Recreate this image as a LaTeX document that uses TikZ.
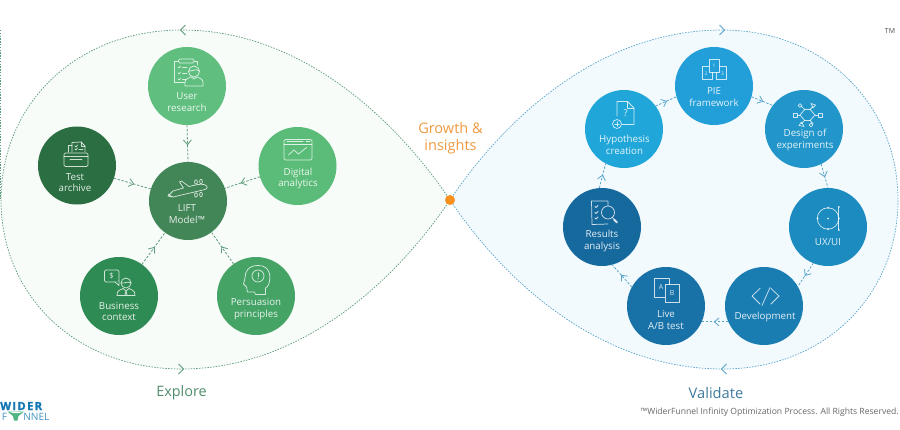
\documentclass[tikz,border=0pt]{standalone}
\usepackage{fontspec}
\setmainfont{Open Sans}
\usetikzlibrary{arrows.meta,decorations.markings}
\definecolor{gfill}{HTML}{F7FCF9}
\definecolor{bfill}{HTML}{F2FAFE}
\definecolor{gdot}{HTML}{5F9C7C}
\definecolor{bdot}{HTML}{5BA5CB}
\definecolor{cUser}{HTML}{60BF7F}
\definecolor{cTest}{HTML}{2B6E42}
\definecolor{cLift}{HTML}{428557}
\definecolor{cDig}{HTML}{5ABC78}
\definecolor{cBus}{HTML}{2F8B54}
\definecolor{cPer}{HTML}{45A366}
\definecolor{cPie}{HTML}{229FD8}
\definecolor{cHyp}{HTML}{20A6D8}
\definecolor{cDes}{HTML}{2296CA}
\definecolor{cUx}{HTML}{1C8BBF}
\definecolor{cDev}{HTML}{197DB2}
\definecolor{cLive}{HTML}{1871A7}
\definecolor{cRes}{HTML}{16699D}
\definecolor{orange1}{HTML}{F7901E}
\definecolor{orange2}{HTML}{EF9A3F}
\definecolor{expl}{HTML}{4F8C6B}
\definecolor{vali}{HTML}{3F7A9C}
\definecolor{logoB}{HTML}{1478B4}
\definecolor{logoG}{HTML}{4FB583}
\tikzset{
  x=0.75pt,y=-0.75pt,
  disc/.style={circle,minimum size=58.5pt,inner sep=0pt,outer sep=0pt,fill=#1},
  lbl/.style={text=white,text opacity=.88,align=center,inner sep=0pt,font=\fontsize{7.3}{8.7}\selectfont},
  lobe/.style={draw=#1,line width=.55pt,dash pattern=on 1.1pt off 1pt},
  flowline/.style={draw=#1,line width=.6pt,dash pattern=on 1.8pt off 1.2pt,
    postaction={decorate,decoration={markings,mark=at position .55 with {\arrow[solid,#1,line width=.6pt]{Straight Barb[length=3.6pt,width=6pt]}}}}},
  ico/.style={draw=white,draw opacity=.78,line width=.55pt,line join=round,line cap=round},
  chev/.style={draw=#1,line width=.6pt,line join=round},
  tiny/.style={text=white,text opacity=.85,inner sep=0pt}
}
\begin{document}
\begin{tikzpicture}
\useasboundingbox (0,0) rectangle (900,429);
% lobes
\coordinate (c0) at (450,200);
\coordinate (lt) at (182,30); \coordinate (ll) at (1,200); \coordinate (lb) at (182,369);
\coordinate (rt) at (722,30); \coordinate (rr) at (898,200); \coordinate (rb) at (723,369);
\fill[gfill] (c0) .. controls (395,118) and (300,30) .. (lt) .. controls (75,30) and (1,105) .. (ll) .. controls (1,295) and (75,369) .. (lb) .. controls (300,369) and (395,282) .. (c0);
\fill[bfill] (c0) .. controls (505,118) and (600,30) .. (rt) .. controls (825,30) and (898,105) .. (rr) .. controls (898,295) and (825,369) .. (rb) .. controls (600,369) and (505,282) .. (c0);
\draw[lobe=gdot] (c0) .. controls (395,118) and (300,30) .. (lt) .. controls (75,30) and (1,105) .. (ll) .. controls (1,295) and (75,369) .. (lb) .. controls (300,369) and (395,282) .. (c0);
\draw[lobe=bdot] (c0) .. controls (505,118) and (600,30) .. (rt) .. controls (825,30) and (898,105) .. (rr) .. controls (898,295) and (825,369) .. (rb) .. controls (600,369) and (505,282) .. (c0);
\draw[lobe=gdot] (.6,30) -- (.6,200);
\node[circle,fill=orange1,minimum size=7.5pt,inner sep=0pt] (hub) at (c0) {};
\draw[chev=gdot] (185.5,25) -- (180.5,30) -- (185.5,35);
\draw[chev=gdot] (178.5,364) -- (183.5,369) -- (178.5,374);
\draw[chev=bdot] (719.5,25) -- (724.5,30) -- (719.5,35);
\draw[chev=bdot] (726.5,364) -- (721.5,369) -- (726.5,374);
% discs
\node[disc=cUser] (user) at (187,86) {};
\node[disc=cTest] (test) at (77,165.5) {};
\node[disc=cLift] (lift) at (188,201) {};
\node[disc=cDig] (dig) at (297.5,166) {};
\node[disc=cBus] (bus) at (119,296) {};
\node[disc=cPer] (per) at (256,296) {};
\node[disc=cPie] (pie) at (714,86) {};
\node[disc=cHyp] (hyp) at (624,129) {};
\node[disc=cDes] (des) at (804,129) {};
\node[disc=cUx] (ux) at (828,227) {};
\node[disc=cDev] (dev) at (764,306) {};
\node[disc=cLive] (live) at (666,306) {};
\node[disc=cRes] (res) at (602,227) {};
% connectors
\path[flowline=gdot] (user.270) -- (lift.90);
\path[flowline=gdot] (test.341) -- (lift.162);
\path[flowline=gdot] (dig.196) -- (lift.19);
\path[flowline=gdot] (bus.54) -- (lift.234);
\path[flowline=gdot] (per.125) -- (lift.307);
\path[flowline=bdot] (hyp.36) -- (pie.196);
\path[flowline=bdot] (pie.344) -- (des.143);
\path[flowline=bdot] (des.296) -- (ux.90);
\path[flowline=bdot] (ux.248) -- (dev.30);
\path[flowline=bdot] (dev.204) -- (live.336);
\path[flowline=bdot] (live.151) -- (res.285);
\path[flowline=bdot] (res.94) -- (hyp.242);
% labels
\node[lbl] (tUser) at (187,102) {User\\research};
\node[lbl] (tTest) at (75,182.5) {Test\\archive};
\node[lbl] (tLift) at (187,214) {LIFT\\Model™};
\node[lbl] (tDig) at (298,178.5) {Digital\\analytics};
\node[lbl] (tBus) at (119,311.5) {Business\\context};
\node[lbl] (tPer) at (256,309) {Persuasion\\principles};
\node[lbl] (tPie) at (714,97) {PIE\\framework};
\node[lbl] (tHyp) at (624.5,145) {Hypothesis\\creation};
\node[lbl] (tDes) at (805,140) {Design of\\experiments};
\node[lbl] (tUx) at (828,242) {UX/UI};
\node[lbl] (tDev) at (765,317) {Development};
\node[lbl] (tLive) at (666,320) {Live\\A/B test};
\node[lbl] (tRes) at (602,241) {Results\\analysis};
\node[text=orange2,align=center,inner sep=0pt,font=\fontsize{10.9}{12.8}\selectfont] (grow) at (450.5,138.5) {Growth \&\\insights};
\node[text=expl,inner sep=0pt,font=\fontsize{10.8}{14}\selectfont] (explore) at (181.5,393) {Explore};
\node[text=vali,inner sep=0pt,font=\fontsize{11}{14}\selectfont] (validate) at (716,393) {Validate};
\node[text=black!60,anchor=east,inner sep=0pt,font=\fontsize{6.45}{8}\selectfont] (foot) at (899,412) {™WiderFunnel Infinity Optimization Process. All Rights Reserved.};
\node[text=black!70,inner sep=0pt,font=\fontsize{5.2}{6}\selectfont] (tm) at (890,31.5) {TM};
% logo
\node[text=logoB,anchor=west,inner sep=0pt,font=\fontsize{8.4}{9}\bfseries\selectfont] (lgA) at (0,406) {\addfontfeatures{LetterSpace=12,FakeBold=1.5}WIDER};
\node[text=logoB!80,anchor=west,inner sep=0pt,font=\fontsize{7.6}{9}\selectfont] (lgB) at (1.5,416.5) {F};
\node[text=logoB!80,anchor=west,inner sep=0pt,font=\fontsize{7.6}{9}\selectfont] (lgC) at (23,416.5) {NNEL};
\fill[logoG] (7.5,411.5) -- (24,411.5) -- (18.5,416) -- (17.5,420.5) -- (14,420.5) -- (13,416) -- cycle;
\fill[white] (10,412) .. controls (13,413.6) and (19,413.6) .. (22,412) -- cycle;
% --- icons ---
% user research
\draw[ico] (190,82) -- (174.5,82) -- (174.5,61) -- (197.5,61) -- (197.5,65);
\draw[ico,rounded corners=1pt,fill=cUser] (178.5,59) rectangle (194,63);
\foreach \yy in {67,73,79}{\draw[ico] (178,\yy) -- (179,\yy+.8) -- (180.5,\yy-.8); \draw[ico] (182.5,\yy) -- (187,\yy);}
\draw[ico,fill=cUser] (194,71.5) circle (5.5);
\draw[ico,fill=cUser] (185,86) -- (185,82) .. controls (185,79) and (189,78) .. (191,76.8) -- (194,79) -- (197,76.8) .. controls (199,78) and (203,79) .. (203,82) -- (203,86) -- cycle;
\draw[ico] (188.8,71) .. controls (192,71.5) and (196,68) .. (199.3,71);
% test archive
\draw[ico] (68.5,152) -- (68.5,145) -- (72,145);
\draw[ico] (72,152) -- (72,142.5) -- (81,142) -- (85,146) -- (85,152);
\draw[ico] (81,142) -- (81,146) -- (85,146);
\draw[ico] (75,149) -- (76,150) -- (77.5,148); \draw[ico] (79,149) -- (83,149);
\draw[ico] (75,146) -- (76,147) -- (77.5,145);
\draw[ico,rounded corners=1pt] (64,153) rectangle (88,166.5);
\draw[ico] (64,156.5) -- (88,156.5); \draw[ico] (70,159.5) -- (82,159.5);
% plane
\draw[ico] (207,186.5) .. controls (205,183) and (199,184) .. (189,186.5) -- (181.5,181) -- (179.5,182) -- (183.5,188) -- (173,191) -- (169,195) -- (173,197) -- (205,189.5) .. controls (207,189) and (207.5,188) .. (207,186.5) -- cycle;
\draw[ico] (172,197) -- (168,196) -- (169,194);
\foreach \px/\py in {196/182,201/181.5,196/195,201/194.5}{\draw[ico] (\px,\py) ellipse (1.4 and 2.2);}
% digital analytics
\draw[ico,rounded corners=1pt] (284,139.5) rectangle (312,160);
\draw[ico] (284,144) -- (312,144);
\draw[ico] (287,141.8) -- (303,141.8); \draw[ico] (306,141.8) -- (310,141.8);
\draw[ico] (288.5,155) -- (294,150) -- (298.5,154) -- (306.5,147.5);
% business
\draw[ico,rounded corners=1pt] (104.5,270) rectangle (119,282);
\draw[ico,fill=cBus] (115,282) -- (119,285.5) -- (119,281);
\node[tiny,font=\fontsize{5.6}{6}\selectfont] (dollar) at (111.5,275.5) {\$};
\draw[ico,fill=cBus] (126,283) circle (5);
\draw[ico] (121,283) .. controls (124,284) and (128,280.5) .. (131,283);
\draw[ico] (117,295.5) -- (117.5,292) .. controls (118,290) and (121,290) .. (123,288.5) -- (126,291) -- (129,288.5) .. controls (131,290) and (134,290) .. (134.5,292) -- (135,295.5) -- cycle;
\draw[ico] (126,291) -- (125,295) (126,291) -- (127,295);
% persuasion
\draw[ico] (267.5,286.5) .. controls (272,279) and (271,265) .. (258,265.5) .. controls (248,265.5) and (245,272) .. (245,278) -- (243.5,284) -- (246.5,287) -- (247.5,292) -- (254.5,292) -- (255.5,294.5) -- (265.5,294.5) -- (265.5,288) -- cycle;
\draw[ico] (258,276) circle (6);
\draw[ico] (258,272.8) -- (258,276.8);
\fill[white,opacity=.8] (258,278.8) circle (.6);
% PIE
\draw[ico] (702,66.7) rectangle (712.7,79.3);
\draw[ico] (716.7,66.7) rectangle (726.7,79.3);
\draw[ico,fill=cPie] (709,59) rectangle (719,72);
\node[tiny,font=\fontsize{3.6}{4}\selectfont] (n1) at (714,65.5) {1};
\node[tiny,font=\fontsize{3.6}{4}\selectfont] (n2) at (706,73.5) {2};
\node[tiny,font=\fontsize{3.6}{4}\selectfont] (n3) at (722.5,73.5) {3};
% hypothesis
\draw[ico] (617,116) -- (617,101.5) -- (627.5,101.5) -- (634,108) -- (634,124.5) -- (622,124.5);
\draw[ico] (627.5,101.5) -- (627.5,108) -- (634,108);
\node[tiny,font=\fontsize{7}{8}\selectfont] (qm) at (625.5,113.5) {?};
\draw[ico] (617,124) circle (4.5);
\draw[ico] (614.8,124) -- (619.2,124) (617,121.8) -- (617,126.2);
% design of experiments
\draw[ico] (800,115) -- (804.7,109.5) -- (810,109.5) -- (815,115) -- (810,120.5) -- (804.7,120.5) -- cycle;
\draw[ico] (800,115) -- (797,115) (815,115) -- (818,115);
\draw[ico] (801.5,106.5) -- (804.7,109.5) (813,106.5) -- (810,109.5);
\draw[ico] (801.5,123.5) -- (804.7,120.5) (813,123.5) -- (810,120.5);
\draw[ico] (793,113) rectangle (797,117);
\draw[ico] (818,113) rectangle (822,117);
\draw[ico] (800,105.5) circle (1.9);
\draw[ico] (811,125) circle (1.9);
\draw[ico] (811,103.5) -- (815.5,105) -- (813,108) -- cycle;
\draw[ico] (804,126.5) -- (799,125.5) -- (801.5,122) -- cycle;
% UX/UI
\draw[ico] (828,218.5) circle (10.7);
\fill[white,opacity=.85] (828.2,218.5) circle (1);
\foreach \dx/\dy in {828.2/207.8,828.2/229,817.5/218.5,838.8/218.5,838.8/207,838.8/230}{\fill[white,opacity=.85] (\dx,\dy) circle (1);}
\draw[ico] (838.8,207) -- (838.8,230);
% development
\draw[ico] (760,288.5) -- (752,296) -- (760,304);
\draw[ico] (770,287.5) -- (762,305.5);
\draw[ico] (771,288.5) -- (779,296) -- (771,304);
% live A/B test
\draw[ico] (654.5,278.5) rectangle (669,297);
\draw[ico,fill=cLive] (665,284.5) rectangle (679.5,302.5);
\node[tiny,font=\fontsize{5.2}{6}\selectfont] (la) at (661,287.5) {A};
\node[tiny,font=\fontsize{5.2}{6}\selectfont] (lb2) at (672,293.5) {B};
% results
\draw[ico] (608,224) -- (592,224.5) -- (591.5,201) -- (608,201) -- (608,208);
\draw[ico] (595,206.5) -- (596,207.5) -- (598,205.5);
\draw[ico] (595,212.5) -- (596,213.5) -- (598,211.5);
\draw[ico] (595,218) -- (596,219) -- (598,217);
\draw[ico,fill=cRes] (608,212.5) circle (6.5);
\draw[ico] (612.5,217.5) -- (616,221.5);
\draw[ico,line width=1.4pt] (614,219.5) -- (617,222.5);
\end{tikzpicture}
\end{document}
